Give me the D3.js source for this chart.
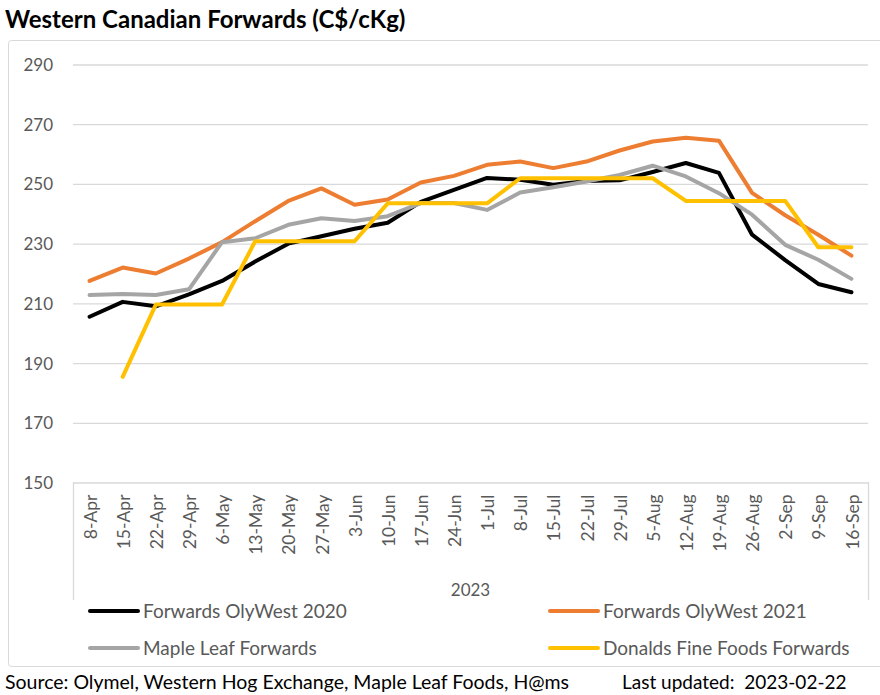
<!DOCTYPE html>
<html><head><meta charset="utf-8">
<script src="https://cdn.jsdelivr.net/npm/d3@7"></script>
<style>body{margin:0;background:#fff;} svg{display:block;}</style>
</head><body>
<svg id="c" width="880" height="695"></svg>
<script>
const categories = ["8-Apr","15-Apr","22-Apr","29-Apr","6-May","13-May","20-May","27-May","3-Jun","10-Jun","17-Jun","24-Jun","1-Jul","8-Jul","15-Jul","22-Jul","29-Jul","5-Aug","12-Aug","19-Aug","26-Aug","2-Sep","9-Sep","16-Sep"];
const olyWest2020 = [205.5,210.5,209,213,217.5,224,230,232.5,235,237,244,248,252,251.4,249.7,251,251.2,254,257,253.7,233,224.5,216.5,213.7];
const olyWest2021 = [217.5,222,220,225,230.5,237.5,244.3,248.5,243,244.8,250.5,252.7,256.4,257.5,255.3,257.5,261.2,264.2,265.5,264.5,247,239.5,233,226];
const mapleLeaf = [212.8,213.1,212.8,214.7,230.5,231.8,236.3,238.5,237.6,239.2,243.6,243.6,241.3,247.1,248.9,250.8,253,256.1,252.5,246.9,239.7,229.6,224.6,218.2];
const donalds = [null,185.4,209.6,209.6,209.6,230.8,230.8,230.8,230.8,243.5,243.5,243.5,243.5,251.9,251.9,251.9,251.9,251.9,244.3,244.3,244.3,244.3,228.8,228.8];
const yTicks = [150,170,190,210,230,250,270,290];
const seriesNames = ["Forwards OlyWest 2020","Forwards OlyWest 2021","Maple Leaf Forwards","Donalds Fine Foods Forwards"];
const seriesColors = ["#000000","#ED7D31","#A5A5A5","#FFC000"];
const seriesData = [olyWest2020, olyWest2021, mapleLeaf, donalds];

const svg = d3.select("#c");
const font = "Lato, 'Open Sans', sans-serif";

// outer border
svg.append("rect").attr("x",8.5).attr("y",40.5).attr("width",900).attr("height",626)
  .attr("rx",3).attr("fill","none").attr("stroke","#d9d9d9").attr("stroke-width",1);

// title
svg.append("text").attr("x",5).attr("y",28).text("Western Canadian Forwards (C$/cKg)")
  .attr("font-family",font).attr("font-weight","bold").attr("font-size",24).attr("fill","#000");

const x = d3.scaleBand().domain(categories).range([73,868]);
const y = d3.scaleLinear().domain([150,290]).range([482.5,64.5]);

// gridlines
const g = svg.append("g");
g.selectAll("line.grid").data(yTicks.filter(t=>t>150)).join("line")
  .attr("x1",73).attr("x2",868).attr("y1",d=>y(d)+0.5).attr("y2",d=>y(d)+0.5)
  .attr("stroke","#d9d9d9").attr("stroke-width",1.3);

// y axis labels
const yAxis = d3.axisLeft(y).tickValues(yTicks).tickSize(0).tickPadding(20);
const ya = svg.append("g").attr("transform","translate(73,0)").call(yAxis);
ya.select(".domain").remove();
ya.selectAll("text").attr("font-family",font).attr("font-size",17).attr("fill","#595959").attr("dy","0.35em");

// x axis
const xAxis = d3.axisBottom(x).tickSize(0).tickPadding(0);
const xa = svg.append("g").attr("transform","translate(0,482.5)").call(xAxis);
xa.select(".domain").attr("stroke","#d9d9d9").attr("stroke-width",1.3);
xa.selectAll("text").attr("font-family",font).attr("font-size",17.5).attr("fill","#595959")
  .attr("text-anchor","end").attr("transform","translate(1,12) rotate(-90)").attr("dy","0.35em").attr("x",0).attr("y",0);

// multi-level axis boundary lines
svg.append("line").attr("x1",73.5).attr("x2",73.5).attr("y1",482).attr("y2",600).attr("stroke","#d9d9d9").attr("stroke-width",1.3);
svg.append("line").attr("x1",868.5).attr("x2",868.5).attr("y1",482).attr("y2",600).attr("stroke","#d9d9d9").attr("stroke-width",1.3);
svg.append("text").attr("x",(73+868)/2).attr("y",590).attr("dy","0.35em").attr("text-anchor","middle")
  .attr("font-family",font).attr("font-size",17).attr("fill","#595959").text("2023");

// lines
const line = d3.line().defined(d=>d!=null).x((d,i)=>x(categories[i])+x.bandwidth()/2).y(d=>y(d));
seriesData.forEach((s,k)=>{
  svg.append("path").datum(s).attr("d",line).attr("fill","none").attr("stroke",seriesColors[k])
    .attr("stroke-width",4).attr("stroke-linejoin","round").attr("stroke-linecap","round");
});

// legend
const legPos = [[90,611],[550,611],[90,648],[550,648]];
seriesNames.forEach((n,k)=>{
  const [lx,ly] = legPos[k];
  svg.append("line").attr("x1",lx).attr("x2",lx+48).attr("y1",ly).attr("y2",ly)
    .attr("stroke",seriesColors[k]).attr("stroke-width",4).attr("stroke-linecap","round");
  svg.append("text").attr("x",lx+53).attr("y",ly).attr("dy","0.35em").text(n)
    .attr("font-family",font).attr("font-size",19).attr("fill","#595959");
});

// footer
svg.append("text").attr("x",5).attr("y",682).attr("dy","0.35em").text("Source: Olymel, Western Hog Exchange, Maple Leaf Foods, H@ms")
  .attr("font-family",font).attr("font-size",19.5).attr("fill","#000");
svg.append("text").attr("x",622).attr("y",682).attr("dy","0.35em").text("Last updated:  2023-02-22")
  .attr("font-family",font).attr("font-size",19).attr("fill","#000").style("white-space","pre");
</script>
</body></html>
